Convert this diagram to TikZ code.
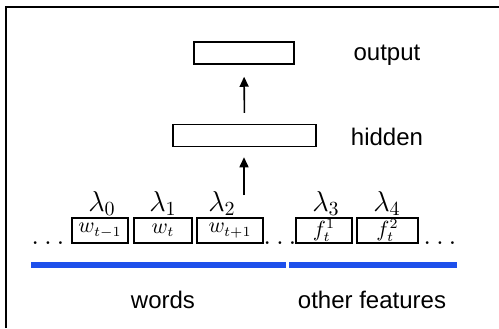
\documentclass[tikz,border=0pt]{standalone}
\usepackage{fontspec}
\setsansfont{Liberation Sans}
\usetikzlibrary{arrows.meta}
\definecolor{barblue}{RGB}{30,80,235}
\begin{document}
\begin{tikzpicture}[x=0.5pt,y=-0.5pt,
  layerbox/.style={draw,line width=0.75pt,inner sep=0pt,minimum height=11pt},
  inbox/.style={draw,line width=0.75pt,inner sep=0pt,minimum height=12.5pt,font=\fontsize{10.5}{12}\selectfont},
  lab/.style={font=\sffamily\fontsize{12}{14}\selectfont,inner sep=0pt},
  lam/.style={anchor=base,inner sep=0pt,font=\fontsize{14}{16}\selectfont},
  dotsn/.style={anchor=base,inner sep=0pt,font=\fontsize{14}{16}\selectfont},
  arr/.style={line width=0.8pt,-{Triangle[length=5pt,width=4.5pt]}},
  bar/.style={line width=3pt,barblue}]
\useasboundingbox (0,0) rectangle (499,328);
\draw[line width=0.75pt] (6,328) -- (6,7) -- (499,7);
% layers
\node[layerbox,minimum width=50pt] (output) at (244,53) {};
\node[layerbox,minimum width=71.5pt] (hidden) at (244.5,135.5) {};
\node[lab] (outputlab) at (387,55) {output};
\node[lab] (hiddenlab) at (387,137) {hidden};
% input boxes
\node[inbox,minimum width=28pt] (w0) at (100,230.5) {$w_{t-1}$};
\node[inbox,minimum width=29pt] (w1) at (163,230.5) {$w_t$};
\node[inbox,minimum width=33pt] (w2) at (230,230.5) {$w_{t+1}$};
\node[inbox,minimum width=28pt] (f1) at (324,230.5) {$f_t^1$};
\node[inbox,minimum width=30.5pt] (f2) at (387.5,230.5) {$f_t^2$};
% lambdas
\node[lam] (l0) at (102,211) {$\lambda_0$};
\node[lam] (l1) at (163,211) {$\lambda_1$};
\node[lam] (l2) at (222,211) {$\lambda_2$};
\node[lam] (l3) at (326,211) {$\lambda_3$};
\node[lam] (l4) at (387,211) {$\lambda_4$};
% dots
\node[dotsn] (d0) at (48,244) {$\dots$};
\node[dotsn] (d1) at (280,244) {$\dots$};
\node[dotsn] (d2) at (440,244) {$\dots$};
% arrows
\coordinate (inp) at (244,195);
\draw[arr,shorten >=5pt] (inp) -- (inp |- hidden.south);
\draw[arr,shorten <=5.5pt,shorten >=6pt] (hidden.north) -- (output.south);
% bars
\coordinate (b0) at (31,265);
\coordinate (b1) at (286,265);
\coordinate (b2) at (289,265);
\coordinate (b3) at (457,265);
\draw[bar] (b0) -- (b1);
\draw[bar] (b2) -- (b3);
\node[lab] (words) at (163,300) {words};
\node[lab] (other) at (372,300) {other features};
\end{tikzpicture}
\end{document}
